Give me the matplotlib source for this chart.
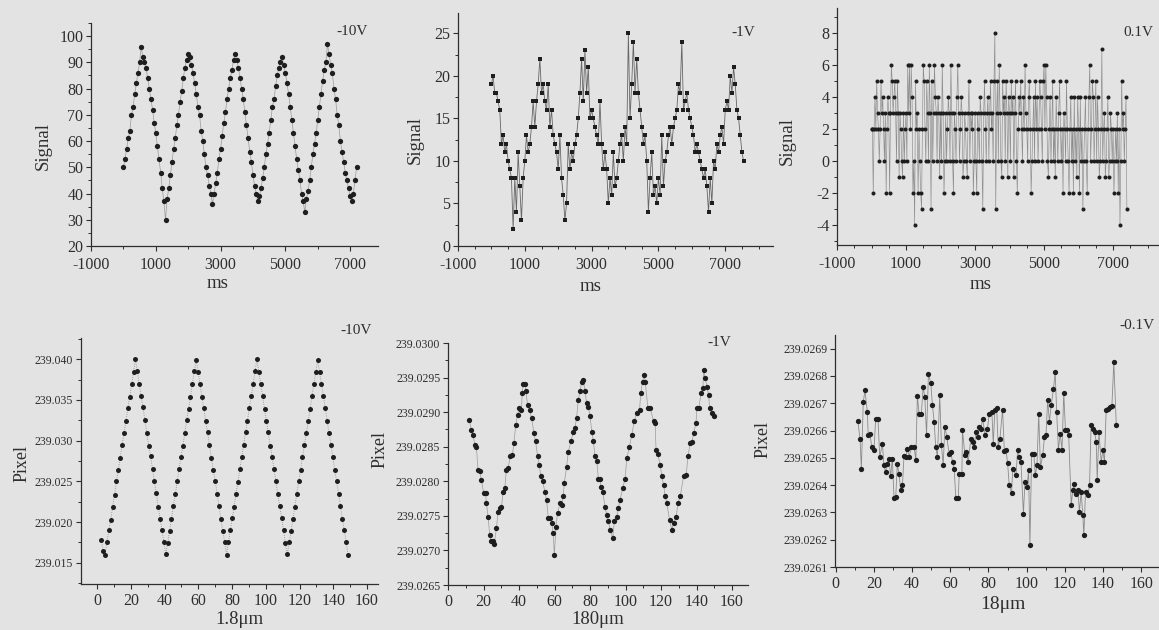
import numpy as np
import matplotlib
matplotlib.use("Agg")
import matplotlib.pyplot as plt
from matplotlib.ticker import MultipleLocator, FixedLocator, FormatStrFormatter

plt.rcParams['font.family'] = ['Liberation Serif', 'DejaVu Serif']
plt.rcParams['axes.unicode_minus'] = False

# ---------------- data ----------------
# Panel 1: -10V, Signal vs ms (sampled every 50 ms from 0 ms)
sig10_t_step = 50
sig10 = [50, 53, 57, 61, 64, 70, 73, 78, 82, 86, 90, 96,
         92, 90, 88, 84, 80, 76, 72, 67, 63, 58, 53, 48, 42, 37, 30,
         38, 42, 47, 52, 57, 61, 66, 70, 75, 79, 84, 88, 91, 93,
         92, 89, 86, 82, 78, 73, 70, 64, 60, 55, 50, 47, 43, 40, 36,
         40, 44, 48, 53, 57, 62, 67, 71, 76, 80, 84, 87, 91, 93,
         91, 88, 84, 80, 76, 71, 66, 61, 56, 52, 47, 43, 40, 37,
         39, 42, 46, 50, 55, 59, 63, 68, 73, 76, 81, 85, 88, 90, 92,
         89, 86, 82, 78, 73, 68, 63, 58, 53, 49, 45, 40, 37, 33,
         38, 41, 45, 50, 55, 59, 63, 68, 73, 78, 83, 87, 90, 97,
         93, 89, 86, 80, 76, 70, 66, 60, 56, 52, 48, 45, 42, 39, 37,
         40, 45, 50]

# Panel 2: -1V, Signal vs ms (sampled every 50 ms)
sig1_t_step = 50
sig1 = [19, 20, 18, 18, 17, 16, 12, 13, 11, 12, 10, 9, 8, 2, 8, 4, 11, 7, 3, 8,
        10, 13, 11, 12, 14, 17, 14, 17, 19, 22, 18, 19, 17, 16, 19, 14, 16, 13, 12, 11,
        9, 13, 8, 6, 3, 5, 12, 9, 11, 10, 12, 13, 15, 18, 22, 17, 23, 18, 21, 15,
        16, 15, 14, 13, 12, 17, 12, 9, 11, 9, 5, 8, 6, 11, 7, 8, 10, 12, 13, 10,
        14, 12, 25, 15, 19, 24, 18, 22, 18, 16, 14, 12, 13, 10, 4, 8, 11, 6, 7, 5,
        8, 6, 13, 7, 10, 11, 13, 14, 12, 14, 15, 16, 19, 18, 24, 16, 17, 18, 16, 15,
        14, 13, 11, 12, 11, 10, 9, 8, 9, 7, 4, 8, 5, 10, 9, 12, 11, 13, 14, 12,
        16, 17, 16, 20, 18, 21, 19, 16, 15, 13, 11, 10]

# Panel 3: 0.1V, Signal vs ms (sampled every 25 ms)
sig01_t_step = 25
sig01 = [2, 2, -2, 2, 4, 2, 5, 3, 2, 0, 2, 5, 3, 4, 2, 0, 3, -2, 2, 4,
         3, -2, 3, 6, 5, 3, 4, 5, 3, 0, 5, 3, -1, 3, 2, 0, -1, 3, 0, 2,
         3, 0, 6, 3, 6, 2, 6, 4, -2, 0, -4, 5, 2, 3, -2, 2, 0, -2, -3, 2,
         6, 5, 2, 0, 5, 3, 0, 6, 3, -3, 5, 0, 3, 6, 4, 3, 0, 4, 3, -1,
         3, 0, 6, 3, -2, 0, 3, 0, 2, 4, 3, 0, 6, 3, 0, -2, 3, 2, 0, 4,
         6, 3, 0, 2, 4, 3, -1, 0, 3, 2, 0, -1, 3, 5, 0, 3, 2, 3, -2, 0,
         3, 0, -2, 3, 2, 0, 4, 3, 0, -3, 3, 5, 2, 0, 3, 4, 0, 3, 5, 2,
         3, 0, 5, 8, -3, 3, 5, 0, 6, 3, 0, -1, 5, 3, 4, 0, 5, 3, -1, 4,
         3, 0, 5, 3, 4, -1, 3, 5, 0, -2, 2, 4, 3, 5, 2, 0, 4, 2, 6, 3,
         2, 0, 4, 5, 2, -2, 0, 2, 4, 0, 5, 2, 4, 0, 2, 5, 4, 2, 0, 5,
         6, 2, 6, 4, 0, -1, 2, 4, 0, 2, 5, 0, 2, -1, 4, 2, 0, 3, 5, 2,
         0, 2, -2, 3, 2, 0, 5, 2, 0, -2, 2, 4, 0, 2, -2, 4, 0, 2, -1, 4,
         2, -2, 4, 0, 2, -3, 0, 2, 4, 0, -2, 2, 4, 6, 0, 2, 5, 4, 0, 2,
         5, 0, 4, 2, -1, 0, 2, 7, 0, 2, 3, -1, 0, 2, 4, -1, 0, 3, 2, 0,
         2, -2, 0, 2, 0, 3, -2, 2, -4, 0, 5, 2, 3, 0, 2, 4, -3]

# Panel 4: -10V, Pixel vs 1.8um (step 1.125 starting at 2.5)
pix10_x0 = 2.5
pix10_step = 1.125
pix10 = [239.0178, 239.0165, 239.0160,
         239.0175, 239.0190, 239.0203, 239.0219, 239.0233, 239.0250, 239.0264, 239.0279,
         239.0295, 239.0309, 239.0324, 239.0340, 239.0354, 239.0369, 239.0384, 239.0400,
         239.0385, 239.0369, 239.0355, 239.0341, 239.0325, 239.0309, 239.0294, 239.0281,
         239.0265, 239.0250, 239.0236, 239.0219, 239.0204, 239.0190, 239.0175, 239.0161,
         239.0174, 239.0189, 239.0204, 239.0220, 239.0234, 239.0250, 239.0265, 239.0280,
         239.0294, 239.0309, 239.0325, 239.0339, 239.0354, 239.0370, 239.0385, 239.0399,
         239.0384, 239.0370, 239.0354, 239.0340, 239.0324, 239.0310, 239.0295, 239.0279,
         239.0264, 239.0251, 239.0235, 239.0220, 239.0204, 239.0189, 239.0176, 239.0160,
         239.0176, 239.0190, 239.0205, 239.0219, 239.0235, 239.0249, 239.0265, 239.0280,
         239.0295, 239.0310, 239.0324, 239.0340, 239.0355, 239.0369, 239.0385, 239.0400,
         239.0384, 239.0370, 239.0355, 239.0339, 239.0324, 239.0310, 239.0294, 239.0280,
         239.0265, 239.0250, 239.0234, 239.0220, 239.0205, 239.0190, 239.0174, 239.0161,
         239.0175, 239.0189, 239.0204, 239.0219, 239.0235, 239.0250, 239.0264, 239.0280,
         239.0295, 239.0309, 239.0324, 239.0339, 239.0355, 239.0370, 239.0384, 239.0399,
         239.0384, 239.0370, 239.0355, 239.0340, 239.0324, 239.0309, 239.0295, 239.0280,
         239.0264, 239.0250, 239.0235, 239.0220, 239.0204, 239.0190, 239.0175, 239.0160]

# Panel 5: -1V, Pixel vs 180um
pix1_x = [11.9, 13.2, 14.1, 15.1, 16.0, 16.9, 17.8, 18.8, 20.1, 21.2,
          21.6, 22.6, 23.5, 24.5, 25.3, 26.0, 27.3, 28.2, 29.1, 30.1,
          31.1, 32.0, 32.9, 33.8, 35.2, 36.3, 37.1, 38.2, 39.2, 40.1,
          41.4, 41.8, 42.4, 43.3, 43.9, 44.8, 46.1, 47.1, 48.4, 49.3,
          50.5, 51.4, 52.3, 53.3, 54.6, 55.5, 56.5, 57.4, 58.4, 59.3,
          59.9, 60.8, 61.7, 63.1, 64.0, 64.9, 65.5, 66.8, 67.8, 69.3,
          70.6, 71.5, 72.4, 73.4, 74.4, 75.3, 76.2, 77.2, 78.1, 79.1,
          80.0, 81.0, 81.9, 82.8, 83.8, 84.7, 85.6, 86.0, 87.2, 88.5,
          89.4, 90.4, 91.3, 92.8, 93.7, 95.0, 96.0, 96.9, 98.4, 99.8,
          100.7, 102.2, 103.5, 105.0, 106.4, 107.9, 108.6, 109.6, 110.5, 111.1,
          112.6, 113.9, 115.8, 116.7, 117.2, 118.1, 119.5, 120.5, 121.4, 122.4,
          123.3, 124.8, 126.1, 127.1, 128.6, 129.5, 130.8, 132.7, 134.2, 135.2,
          136.5, 137.5, 138.4, 139.7, 140.2, 141.2, 142.7, 143.6, 144.0, 144.9,
          145.9, 146.8, 147.4, 148.7, 149.6]
pix1 = [239.02889, 239.02874, 239.02867, 239.02853, 239.02850, 239.02817, 239.02815, 239.02802, 239.02783, 239.02783,
        239.02769, 239.02749, 239.02722, 239.02713, 239.02713, 239.02710, 239.02732, 239.02756, 239.02761, 239.02763,
        239.02785, 239.02790, 239.02817, 239.02819, 239.02836, 239.02838, 239.02855, 239.02882, 239.02896, 239.02906,
        239.02903, 239.02928, 239.02940, 239.02940, 239.02930, 239.02911, 239.02903, 239.02891, 239.02870, 239.02858,
        239.02836, 239.02824, 239.02807, 239.02800, 239.02785, 239.02773, 239.02747, 239.02747, 239.02739, 239.02725,
        239.02693, 239.02734, 239.02754, 239.02768, 239.02766, 239.02778, 239.02797, 239.02821, 239.02843, 239.02858,
        239.02872, 239.02877, 239.02891, 239.02918, 239.02930, 239.02944, 239.02946, 239.02930, 239.02913, 239.02908,
        239.02894, 239.02872, 239.02858, 239.02836, 239.02829, 239.02804, 239.02804, 239.02792, 239.02784, 239.02763,
        239.02751, 239.02742, 239.02730, 239.02718, 239.02742, 239.02749, 239.02761, 239.02773, 239.02790, 239.02804,
        239.02833, 239.02850, 239.02867, 239.02887, 239.02899, 239.02903, 239.02928, 239.02944, 239.02954, 239.02944,
        239.02906, 239.02906, 239.02887, 239.02884, 239.02845, 239.02840, 239.02824, 239.02807, 239.02795, 239.02778,
        239.02768, 239.02744, 239.02730, 239.02739, 239.02749, 239.02768, 239.02778, 239.02807, 239.02809, 239.02837,
        239.02855, 239.02857, 239.02870, 239.02884, 239.02906, 239.02906, 239.02928, 239.02935, 239.02961, 239.02949,
        239.02937, 239.02925, 239.02906, 239.02899, 239.02894]

# Panel 6: -0.1V, Pixel vs 18um
pix01_x = [11.7, 12.8, 13.5, 14.5, 15.4, 16.6, 17.1, 18.0, 18.9, 20.1,
           21.0, 22.2, 23.1, 24.5, 25.3, 26.2, 27.1, 28.0, 28.8, 29.7,
           30.6, 31.5, 32.3, 33.2, 34.1, 35.0, 35.8, 36.7, 37.6, 38.5,
           39.7, 41.1, 42.0, 42.8, 43.7, 44.9, 45.8, 46.7, 47.6, 48.6,
           49.8, 50.7, 51.6, 52.4, 53.3, 54.5, 55.4, 56.3, 57.2, 58.2,
           59.4, 60.3, 61.2, 62.1, 62.9, 64.2, 64.7, 66.1, 66.4, 67.7,
           68.5, 69.4, 70.8, 71.7, 72.6, 73.4, 74.3, 75.2, 76.1, 76.9,
           78.3, 79.5, 80.4, 81.8, 82.5, 83.4, 84.3, 85.1, 86.0, 87.4,
           88.3, 89.2, 90.0, 90.9, 92.1, 92.7, 94.4, 95.3, 96.2, 97.0,
           98.3, 99.1, 100.2, 101.0, 101.7, 102.6, 103.7, 104.5, 105.4, 106.3,
           107.2, 108.4, 109.3, 110.1, 111.0, 111.9, 112.8, 114.0, 114.9, 115.7,
           116.6, 117.5, 118.5, 119.4, 120.3, 121.2, 122.0, 123.3, 124.1, 124.7,
           125.9, 126.8, 127.6, 128.5, 129.4, 129.9, 130.8, 132.0, 132.9, 133.7,
           134.6, 135.5, 136.4, 136.9, 137.8, 139.0, 139.9, 140.7, 141.6, 142.5,
           143.4, 144.6, 145.6, 146.9]
pix01 = [239.026634, 239.026568, 239.026460, 239.026705, 239.026747, 239.026668, 239.026582, 239.026589, 239.026540, 239.026528,
         239.026644, 239.026644, 239.026503, 239.026552, 239.026473, 239.026448, 239.026479, 239.026497, 239.026432, 239.026497,
         239.026351, 239.026357, 239.026479, 239.026440, 239.026381, 239.026399, 239.026507, 239.026503, 239.026534, 239.026503,
         239.026540, 239.026540, 239.026491, 239.026727, 239.026662, 239.026662, 239.026760, 239.026723, 239.026583, 239.026808,
         239.026774, 239.026692, 239.026631, 239.026540, 239.026503, 239.026729, 239.026546, 239.026473, 239.026613, 239.026576,
         239.026515, 239.026521, 239.026485, 239.026460, 239.026351, 239.026351, 239.026442, 239.026442, 239.026601, 239.026509,
         239.026521, 239.026485, 239.026570, 239.026558, 239.026540, 239.026595, 239.026576, 239.026613, 239.026607, 239.026644,
         239.026582, 239.026607, 239.026662, 239.026668, 239.026552, 239.026677, 239.026683, 239.026540, 239.026570, 239.026677,
         239.026525, 239.026530, 239.026481, 239.026399, 239.026371, 239.026460, 239.026436, 239.026530, 239.026503, 239.026485,
         239.026296, 239.026412, 239.026393, 239.026454, 239.026180, 239.026515, 239.026515, 239.026436, 239.026473, 239.026662,
         239.026466, 239.026509, 239.026576, 239.026582, 239.026713, 239.026631, 239.026692, 239.026751, 239.026815, 239.026668,
         239.026528, 239.026589, 239.026530, 239.026738, 239.026601, 239.026601, 239.026582, 239.026326, 239.026381, 239.026405,
         239.026369, 239.026381, 239.026302, 239.026375, 239.026290, 239.026216, 239.026375, 239.026363, 239.026399, 239.026619,
         239.026607, 239.026595, 239.026558, 239.026418, 239.026595, 239.026485, 239.026528, 239.026485, 239.026674, 239.026680,
         239.026686, 239.026690, 239.026851, 239.026619]

# ---------------- figure ----------------
BG = '#e3e3e3'
INK = '#2e2e2e'
W, H = 1159, 630
fig = plt.figure(figsize=(W / 100, H / 100), dpi=100, facecolor=BG)


def make_axes(left, right, top, bottom, xpad):
    ax = fig.add_axes([left / W, 1 - bottom / H, (right - left) / W, (bottom - top) / H])
    ax.set_facecolor('none')
    for s in ('top', 'right'):
        ax.spines[s].set_visible(False)
    for s in ('left', 'bottom'):
        ax.spines[s].set_color(INK)
        ax.spines[s].set_linewidth(0.9)
    ax.tick_params(which='major', direction='out', length=3.5, width=0.8, color=INK,
                   labelcolor=INK, pad=2)
    ax.tick_params(axis='x', which='major', pad=xpad)
    ax.tick_params(which='minor', direction='out', length=2, width=0.7, color=INK)
    return ax


def label(ax, xl, yl, xpos, ypos, fs_x=13.5, fs_y=13.5):
    ax.set_xlabel(xl, fontsize=fs_x, color=INK)
    ax.set_ylabel(yl, fontsize=fs_y, color=INK)
    ax.xaxis.label.set_verticalalignment('center')
    ax.yaxis.label.set_verticalalignment('center')
    ax.xaxis.set_label_coords(*xpos)
    ax.yaxis.set_label_coords(*ypos)


TOP_TICK = 11.5
BOT_XTICK = 11.5
BOT_YTICK = 8.5
ANN = 11
TOP_XPAD = 4.5
BOT_XPAD = 3

# Panel 1
ax1 = make_axes(91, 378, 23, 246, TOP_XPAD)
t1 = np.arange(len(sig10)) * sig10_t_step
ax1.plot(t1, sig10, '-', color='#9a9a9a', lw=0.5, zorder=1)
ax1.plot(t1, sig10, 'o', color='#1e1e1e', ms=3.8, mew=0, zorder=2)
ax1.set_xlim(-1000, 7860)
ax1.set_ylim(20, 105)
ax1.xaxis.set_major_locator(FixedLocator([-1000, 1000, 3000, 5000, 7000]))
ax1.xaxis.set_minor_locator(MultipleLocator(1000))
ax1.yaxis.set_major_locator(MultipleLocator(10))
ax1.yaxis.set_minor_locator(MultipleLocator(5))
ax1.tick_params(labelsize=TOP_TICK)
label(ax1, 'ms', 'Signal', (0.44, -0.168), (-0.165, 0.45))
ax1.text(0.91, 0.96, '-10V', transform=ax1.transAxes, fontsize=ANN, color=INK,
         ha='center', va='center')

# Panel 2
ax2 = make_axes(458, 773, 13, 246, TOP_XPAD)
t2 = np.arange(len(sig1)) * sig1_t_step
ax2.plot(t2, sig1, '-', color='#666666', lw=0.6, zorder=1)
ax2.plot(t2, sig1, 's', color='#1e1e1e', ms=3.0, mew=0, zorder=2)
ax2.set_xlim(-1000, 8430)
ax2.set_ylim(0, 27.4)
ax2.xaxis.set_major_locator(FixedLocator([-1000, 1000, 3000, 5000, 7000]))
ax2.xaxis.set_minor_locator(MultipleLocator(500))
ax2.yaxis.set_major_locator(MultipleLocator(5))
ax2.yaxis.set_minor_locator(MultipleLocator(2.5))
ax2.tick_params(labelsize=TOP_TICK)
label(ax2, 'ms', 'Signal', (0.42, -0.172), (-0.135, 0.455))
ax2.text(0.905, 0.915, '-1V', transform=ax2.transAxes, fontsize=ANN, color=INK,
         ha='center', va='center')

# Panel 3
ax3 = make_axes(837, 1170, 8, 245, TOP_XPAD)
t3 = np.arange(len(sig01)) * sig01_t_step
ax3.plot(t3, sig01, '-', color='#8c8c8c', lw=0.45, zorder=1)
ax3.plot(t3, sig01, 'o', color='#1e1e1e', ms=2.9, mew=0, zorder=2)
ax3.set_xlim(-1000, 8650)
ax3.set_ylim(-5.25, 9.55)
ax3.xaxis.set_major_locator(FixedLocator([-1000, 1000, 3000, 5000, 7000]))
ax3.xaxis.set_minor_locator(MultipleLocator(500))
ax3.yaxis.set_major_locator(MultipleLocator(2))
ax3.yaxis.set_minor_locator(MultipleLocator(1))
ax3.tick_params(labelsize=TOP_TICK)
label(ax3, 'ms', 'Signal', (0.43, -0.165), (-0.15, 0.44))
ax3.text(0.905, 0.895, '0.1V', transform=ax3.transAxes, fontsize=ANN, color=INK,
         ha='center', va='center')

# Panel 4
ax4 = make_axes(81, 378, 338, 584, BOT_XPAD)
x4 = pix10_x0 + np.arange(len(pix10)) * pix10_step
ax4.plot(x4, pix10, ':', color='#8a8a8a', lw=0.6, zorder=1)
ax4.plot(x4, pix10, 'o', color='#1e1e1e', ms=3.6, mew=0, zorder=2)
ax4.set_xlim(-9.5, 166.5)
ax4.set_ylim(239.0124, 239.0426)
ax4.xaxis.set_major_locator(MultipleLocator(20))
ax4.xaxis.set_minor_locator(MultipleLocator(10))
ax4.yaxis.set_major_locator(MultipleLocator(0.005))
ax4.yaxis.set_minor_locator(MultipleLocator(0.0025))
ax4.yaxis.set_major_formatter(FormatStrFormatter('%.3f'))
ax4.tick_params(axis='x', labelsize=BOT_XTICK)
ax4.tick_params(axis='y', labelsize=BOT_YTICK)
label(ax4, '1.8μm', 'Pixel', (0.535, -0.145), (-0.2, 0.49), fs_x=13.5, fs_y=13)
ax4.text(0.925, 1.03, '-10V', transform=ax4.transAxes, fontsize=ANN, color=INK,
         ha='center', va='center')

# Panel 5
ax5 = make_axes(448, 748, 343, 585, BOT_XPAD)
ax5.plot(pix1_x, pix1, '-', color='#9a9a9a', lw=0.5, zorder=1)
ax5.plot(pix1_x, pix1, 'o', color='#1e1e1e', ms=3.8, mew=0, zorder=2)
ax5.set_xlim(0, 169)
ax5.set_ylim(239.0265, 239.0300)
ax5.xaxis.set_major_locator(MultipleLocator(20))
ax5.xaxis.set_minor_locator(MultipleLocator(10))
ax5.yaxis.set_major_locator(MultipleLocator(0.0005))
ax5.yaxis.set_minor_locator(MultipleLocator(0.00025))
ax5.yaxis.set_major_formatter(FormatStrFormatter('%.4f'))
ax5.tick_params(axis='x', labelsize=BOT_XTICK)
ax5.tick_params(axis='y', labelsize=BOT_YTICK)
label(ax5, '180μm', 'Pixel', (0.5, -0.143), (-0.225, 0.56), fs_x=13.5, fs_y=13)
ax5.text(0.905, 1.0, '-1V', transform=ax5.transAxes, fontsize=ANN, color=INK,
         ha='center', va='center')

# Panel 6
ax6 = make_axes(835, 1170, 335, 567, BOT_XPAD)
ax6.plot(pix01_x, pix01, '-', color='#8a8a8a', lw=0.6, zorder=1)
ax6.plot(pix01_x, pix01, 'o', color='#1e1e1e', ms=3.8, mew=0, zorder=2)
ax6.set_xlim(-0.3, 175)
ax6.set_ylim(239.0261, 239.02695)
ax6.xaxis.set_major_locator(MultipleLocator(20))
ax6.xaxis.set_minor_locator(MultipleLocator(10))
ax6.yaxis.set_major_locator(MultipleLocator(0.0001))
ax6.yaxis.set_major_formatter(FormatStrFormatter('%.4f'))
ax6.tick_params(axis='x', labelsize=BOT_XTICK)
ax6.tick_params(axis='y', labelsize=BOT_YTICK)
label(ax6, '18μm', 'Pixel', (0.5, -0.16), (-0.215, 0.55), fs_x=14, fs_y=13)
ax6.text(0.9, 1.04, '-0.1V', transform=ax6.transAxes, fontsize=ANN, color=INK,
         ha='center', va='center')

fig.savefig('out.png', dpi=100, facecolor=BG)
